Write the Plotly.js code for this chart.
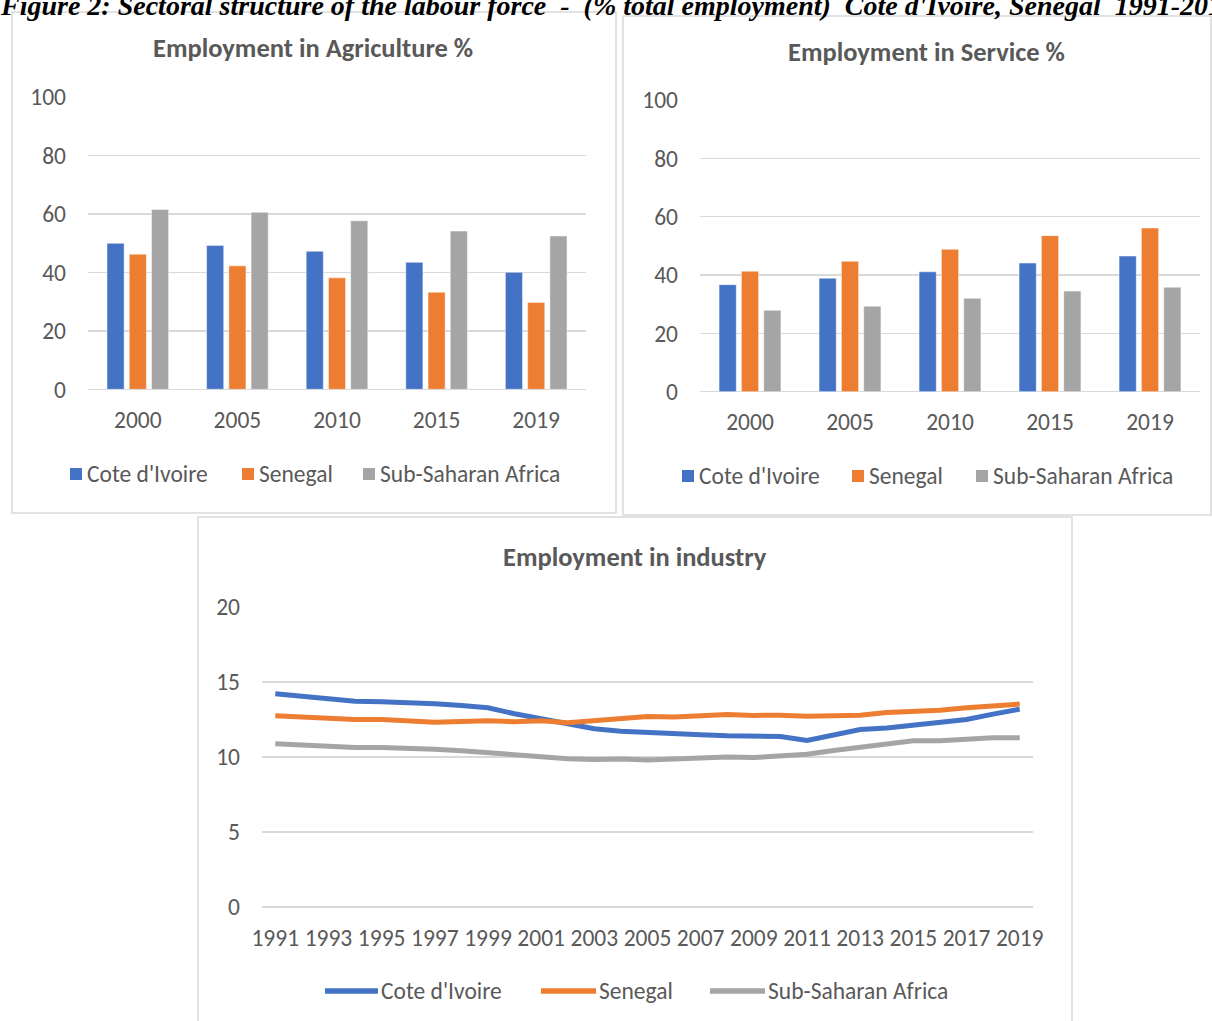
<!DOCTYPE html>
<html>
<head>
<meta charset="utf-8">
<script src="https://cdn.plot.ly/plotly-3.0.1.min.js"></script>
<style>
  html, body { margin: 0; padding: 0; background: #ffffff; overflow: hidden; }
  #chart { width: 1212px; height: 1021px; }
</style>
</head>
<body>
<div id="chart"></div>
<script>
// ---- data ----
const barYears = ['2000', '2005', '2010', '2015', '2019'];

const agriCiv = [49.9, 49.2, 47.2, 43.4, 40.0];
const agriSen = [46.2, 42.2, 38.1, 33.2, 29.7];
const agriSsa = [61.5, 60.5, 57.6, 54.1, 52.4];

const servCiv = [36.7, 38.9, 41.1, 44.1, 46.5];
const servSen = [41.3, 44.7, 48.8, 53.5, 56.1];
const servSsa = [27.9, 29.3, 32.0, 34.5, 35.8];

const indYears = ['1991', '1992', '1993', '1994', '1995', '1996', '1997', '1998', '1999', '2000',
                  '2001', '2002', '2003', '2004', '2005', '2006', '2007', '2008', '2009', '2010',
                  '2011', '2012', '2013', '2014', '2015', '2016', '2017', '2018', '2019'];
const indTicks = ['1991', '1993', '1995', '1997', '1999', '2001', '2003', '2005', '2007', '2009',
                  '2011', '2013', '2015', '2017', '2019'];

const indCiv = [14.22, 14.04, 13.86, 13.71, 13.69, 13.64, 13.55, 13.44, 13.28, 12.88,
                12.55, 12.19, 11.88, 11.72, 11.62, 11.59, 11.48, 11.41, 11.41, 11.36,
                11.10, 11.48, 11.83, 11.94, 12.10, 12.28, 12.50, 12.86, 13.19];
const indSen = [12.75, 12.66, 12.57, 12.50, 12.50, 12.39, 12.32, 12.37, 12.41, 12.35,
                12.41, 12.28, 12.41, 12.61, 12.70, 12.66, 12.79, 12.84, 12.77, 12.79,
                12.72, 12.79, 12.79, 12.97, 13.04, 13.12, 13.28, 13.42, 13.53];
const indSsa = [10.89, 10.78, 10.69, 10.63, 10.63, 10.60, 10.51, 10.42, 10.29, 10.13,
                10.02, 9.89, 9.84, 9.87, 9.80, 9.87, 9.93, 10.00, 9.96, 10.04,
                10.18, 10.43, 10.67, 10.89, 11.09, 11.09, 11.20, 11.28, 11.28];

const seriesNames = ["Cote d'Ivoire", 'Senegal', 'Sub-Saharan Africa'];
const seriesColors = ['#4472C4', '#ED7D31', '#A5A5A5'];

// ---- page geometry helpers (pixels -> paper fractions) ----
const W = 1212, H = 1021;
const px = v => v / W;
const py = v => 1 - v / H;

const FONT = 'Calibri, Carlito, Lato, sans-serif';
const TXT = '#595959';
const GRID = '#d9d9d9';
const TICK_SIZE = 23.5;

// ---- traces ----
function barTrace(vals, i, xa, ya) {
  return {
    type: 'bar', x: barYears, y: vals, name: seriesNames[i],
    xaxis: xa, yaxis: ya, showlegend: false,
    marker: { color: seriesColors[i], line: { color: 'rgba(255,255,255,0.6)', width: 0.8 } },
    hoverinfo: 'x+y+name'
  };
}
function lineTrace(vals, i) {
  return {
    type: 'scatter', mode: 'lines', x: indYears, y: vals, name: seriesNames[i],
    xaxis: 'x3', yaxis: 'y3', showlegend: false,
    line: { color: seriesColors[i], width: 5 }
  };
}

const data = [
  barTrace(agriCiv, 0, 'x', 'y'), barTrace(agriSen, 1, 'x', 'y'), barTrace(agriSsa, 2, 'x', 'y'),
  barTrace(servCiv, 0, 'x2', 'y2'), barTrace(servSen, 1, 'x2', 'y2'), barTrace(servSsa, 2, 'x2', 'y2'),
  lineTrace(indCiv, 0), lineTrace(indSen, 1), lineTrace(indSsa, 2)
];

// ---- axes ----
function xCat(domain, anchor, extra) {
  return Object.assign({
    domain: domain, anchor: anchor, type: 'category',
    showgrid: false, showline: false, zeroline: false, ticks: '',
    tickfont: { family: FONT, size: TICK_SIZE, color: TXT },
    ticklabelstandoff: 14, fixedrange: true
  }, extra || {});
}
function yVal(domain, anchor, range, dtick) {
  return {
    domain: domain, anchor: anchor, range: range, dtick: dtick,
    showgrid: true, gridcolor: GRID, gridwidth: 1.5,
    zeroline: true, zerolinecolor: GRID, zerolinewidth: 1.5,
    showline: false, ticks: '',
    tickfont: { family: FONT, size: TICK_SIZE, color: TXT },
    ticklabelstandoff: 21, fixedrange: true
  };
}

// ---- chart frames, titles, legends ----
const shapes = [
  { type: 'rect', xref: 'paper', yref: 'paper', x0: px(12), x1: px(616), y0: py(513), y1: py(12),
    line: { color: GRID, width: 1.5 }, layer: 'below' },
  { type: 'rect', xref: 'paper', yref: 'paper', x0: px(623), x1: px(1211), y0: py(515), y1: py(16),
    line: { color: GRID, width: 1.5 }, layer: 'below' },
  { type: 'rect', xref: 'paper', yref: 'paper', x0: px(198), x1: px(1072), y0: py(1040), y1: py(517),
    line: { color: GRID, width: 1.5 }, layer: 'below' }
];

const annotations = [
  { text: "Figure 2: Sectoral structure of the labour force  -  (% total employment)  Cote d'Ivoire, Senegal  1991-2019",
    xref: 'paper', yref: 'paper', x: px(-2), y: py(5), xanchor: 'left', yanchor: 'middle', showarrow: false,
    font: { family: 'Liberation Serif, DejaVu Serif, serif', size: 28, color: '#000000', style: 'italic', weight: 'bold' } }
];

function title(text, cx, cy) {
  annotations.push({ text: text, xref: 'paper', yref: 'paper', x: px(cx), y: py(cy),
    xanchor: 'center', yanchor: 'middle', showarrow: false,
    font: { family: FONT, size: 26.5, color: TXT, weight: 'bold' } });
}
title('Employment in Agriculture %', 313, 48);
title('Employment in Service %', 926, 52);
title('Employment in industry', 635, 557);

function legendText(text, x, y) {
  annotations.push({ text: text, xref: 'paper', yref: 'paper', x: px(x), y: py(y),
    xanchor: 'left', yanchor: 'middle', showarrow: false,
    font: { family: FONT, size: TICK_SIZE, color: TXT } });
}
function squareLegend(xs, y) {
  xs.forEach((x, i) => {
    shapes.push({ type: 'rect', xref: 'paper', yref: 'paper', x0: px(x), x1: px(x + 12),
      y0: py(y + 6), y1: py(y - 6), fillcolor: seriesColors[i], line: { width: 0 } });
    legendText(seriesNames[i], x + 15, y);
  });
}
squareLegend([70, 242, 363], 474);
squareLegend([682, 852, 976], 476);

[[325, 378], [541, 596], [710, 765]].forEach((seg, i) => {
  shapes.push({ type: 'line', xref: 'paper', yref: 'paper', x0: px(seg[0]), x1: px(seg[1]),
    y0: py(991), y1: py(991), line: { color: seriesColors[i], width: 5.5 } });
  legendText(seriesNames[i], seg[1] + 1, 991);
});

const layout = {
  width: W, height: H,
  margin: { l: 0, r: 0, t: 0, b: 0 },
  paper_bgcolor: '#ffffff', plot_bgcolor: 'rgba(0,0,0,0)',
  showlegend: false,
  barmode: 'group', bargap: 0.33, bargroupgap: 0.23,
  font: { family: FONT, color: TXT },
  xaxis: xCat([px(88), px(586)], 'y'),
  yaxis: yVal([py(389.3), py(96.8)], 'x', [0, 100], 20),
  xaxis2: xCat([px(700), px(1200)], 'y2'),
  yaxis2: yVal([py(391.7), py(100)], 'x2', [0, 100], 20),
  xaxis3: xCat([px(262), px(1033)], 'y3', { range: [-0.5, 28.5], tickmode: 'array', tickvals: indTicks, ticktext: indTicks }),
  yaxis3: yVal([py(907), py(607)], 'x3', [0, 20], 5),
  shapes: shapes,
  annotations: annotations
};

Plotly.newPlot('chart', data, layout, { displayModeBar: false, staticPlot: true });
</script>
</body>
</html>
